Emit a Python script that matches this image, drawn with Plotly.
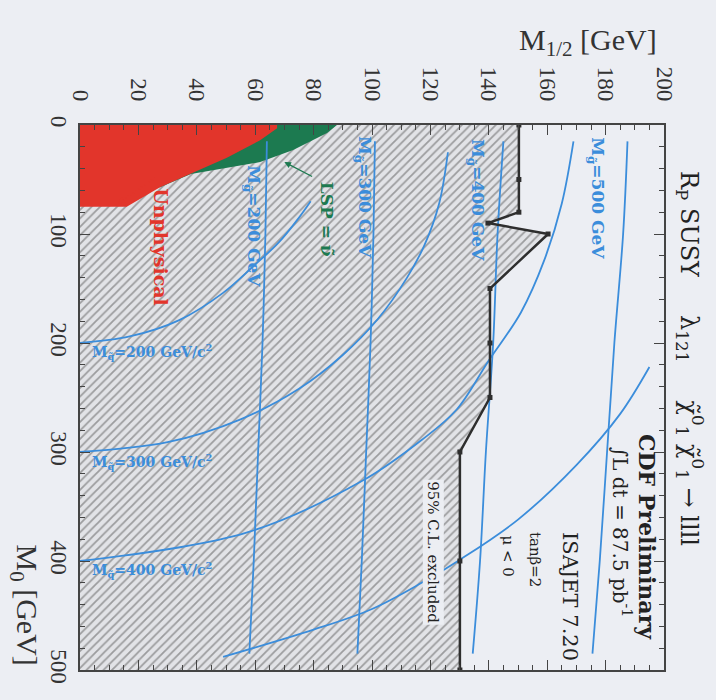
import plotly.graph_objects as go

# ---------------- data (M1/2 [GeV], M0 [GeV]) ----------------
m12_ticks = [0, 20, 40, 60, 80, 100, 120, 140, 160, 180, 200]
m0_ticks = [0, 100, 200, 300, 400, 500]

# CDF 95% C.L. exclusion contour
limit_m12 = [150.3, 150.3, 150.3, 139.7, 160.3, 140.4, 140.4, 140.4, 130.1, 130.1, 130.1]
limit_m0 = [0, 50, 80, 90, 100, 150, 200, 250, 300, 400, 500]

# unphysical region
unphys_m12 = [0, 67.5, 67.5, 61.7, 50.3, 38.7, 27.4, 16, 0]
unphys_m0 = [0, 0, 3, 14, 30, 44, 57, 75, 75]

# LSP = sneutrino region
lsp_m12 = [0, 88, 84.6, 73, 61.7, 50.3, 38, 27.4, 0]
lsp_m0 = [0, 0, 7.3, 23, 34, 39.4, 45, 57, 57]

# gluino mass contours (nearly constant M1/2)
gluino_m0 = [15, 100, 200, 300, 400, 485]
gluino200_m12 = [64, 63.5, 62.5, 61, 59.5, 58]
gluino300_m12 = [101, 100.5, 99.5, 98, 96.5, 95]
gluino400_m12 = [145, 143, 141.5, 139, 137, 134.5]
gluino500_m12 = [187.5, 186, 183, 180.5, 178, 175.5]
gluino_labels = ["200", "300", "400", "500"]
gluino_label_m12 = [59.2, 96.9, 135.6, 177]
gluino_label_m0 = [92.7, 66, 68.8, 67]

# squark mass contours
squark200_m12 = [0, 17, 34, 49, 60, 68, 75, 79]
squark200_m0 = [200, 194, 179, 154, 128, 108, 85, 70]
squark300_m12 = [0, 30, 55, 75, 90, 102, 112, 118, 123, 126]
squark300_m0 = [300, 291, 270, 242, 211, 178, 140, 110, 72, 25]
squark400_m12 = [0, 57, 97, 117, 129, 140, 151, 159, 165, 169]
squark400_m0 = [400, 374, 326, 289, 261, 216, 172, 124, 72, 15]
squark500_m12 = [49, 80, 100, 117, 130, 150, 170, 185, 195]
squark500_m0 = [488, 463, 444, 420, 399, 362, 312, 265, 222]
squark_labels = ["200", "300", "400"]
squark_label_m12 = [24.7, 24.7, 24.7]
squark_label_m0 = [208, 309, 408]

BLUE = "#3b8ddb"
RED = "#e2352b"
GREEN = "#1c7a50"
BG = "#eceef3"
SERIF = "Liberation Serif"
WIDE = "DejaVu Serif"

fig = go.Figure()

# hatched excluded region
fig.add_trace(go.Scatter(
    x=[0] + limit_m12 + [0], y=[0] + limit_m0 + [500],
    mode="lines", line=dict(width=0), fill="toself",
    fillcolor="rgba(0,0,0,0)",
    fillpattern=dict(shape="/", fgcolor="#555555", bgcolor="#e2e3e7",
                     size=6, solidity=0.3),
    hoverinfo="skip", showlegend=False))

# LSP region and unphysical region
fig.add_trace(go.Scatter(x=lsp_m12, y=lsp_m0, mode="lines", line=dict(width=0),
                         fill="toself", fillcolor=GREEN, showlegend=False))
fig.add_trace(go.Scatter(x=unphys_m12, y=unphys_m0, mode="lines", line=dict(width=0),
                         fill="toself", fillcolor=RED, showlegend=False))

# blue mass contours
for xs in [gluino200_m12, gluino300_m12, gluino400_m12, gluino500_m12]:
    fig.add_trace(go.Scatter(x=xs, y=gluino_m0, mode="lines",
                             line=dict(color=BLUE, width=1.8, shape="spline"),
                             showlegend=False))
for xs, ys in [(squark200_m12, squark200_m0), (squark300_m12, squark300_m0),
               (squark400_m12, squark400_m0), (squark500_m12, squark500_m0)]:
    fig.add_trace(go.Scatter(x=xs, y=ys, mode="lines",
                             line=dict(color=BLUE, width=1.8, shape="spline"),
                             showlegend=False))

# exclusion contour
fig.add_trace(go.Scatter(x=limit_m12, y=limit_m0, mode="lines+markers",
                         line=dict(color="#2e2e2e", width=2.5),
                         marker=dict(symbol="square", size=5, color="#2e2e2e"),
                         showlegend=False))

ann = []
for lab, x, y in zip(gluino_labels, gluino_label_m12, gluino_label_m0):
    ann.append(dict(x=x, y=y, text="<b>M<sub>g̃</sub>=" + lab + " GeV</b>", textangle=90,
                    xanchor="center", yanchor="middle", showarrow=False,
                    font=dict(family=WIDE, size=17, color=BLUE)))
for lab, x, y in zip(squark_labels, squark_label_m12, squark_label_m0):
    ann.append(dict(x=x, y=y, text="<b>M<sub>q̃</sub>=" + lab + " GeV/c<sup>2</sup></b>",
                    xanchor="center", yanchor="middle", showarrow=False,
                    font=dict(family=WIDE, size=14, color=BLUE)))

ann += [
    dict(x=27.7, y=112, text="<b>Unphysical</b>", textangle=90, showarrow=False,
         font=dict(family=WIDE, size=19, color=RED)),
    dict(x=13, y=72, ax=26, ay=48, axref="x", ayref="y", text="", showarrow=True,
         arrowhead=2, arrowsize=1, arrowwidth=1.3, arrowcolor=RED),
    dict(x=84.6, y=86, text="<b>LSP = ν̃</b>", textangle=90, showarrow=False,
         font=dict(family=WIDE, size=17, color=GREEN)),
    dict(x=70, y=34, ax=80, ay=48, axref="x", ayref="y", text="", showarrow=True,
         arrowhead=2, arrowsize=1, arrowwidth=1.3, arrowcolor=GREEN),
    dict(x=120.9, y=392, text="95% C.L. excluded", textangle=90, showarrow=False,
         bgcolor=BG, font=dict(family=WIDE, size=15, color="#222")),
    dict(x=194.2, y=378, text="<b>CDF Preliminary</b>", textangle=90, showarrow=False,
         font=dict(family=WIDE, size=22, color="#222")),
    dict(x=185.6, y=374, text="∫L dt = 87.5 pb<sup>-1</sup>", textangle=90, showarrow=False,
         font=dict(family=WIDE, size=20, color="#222")),
    dict(x=167.8, y=433, text="ISAJET 7.20", textangle=90, showarrow=False,
         font=dict(family=WIDE, size=21, color="#222")),
    dict(x=155.8, y=399, text="tanβ=2", textangle=90, showarrow=False,
         font=dict(family=WIDE, size=15, color="#222")),
    dict(x=146.6, y=395, text="μ < 0", textangle=90, showarrow=False,
         font=dict(family=WIDE, size=15, color="#222")),
    dict(xref="paper", yref="paper", x=1.045, y=0.572, xanchor="center", yanchor="middle",
         text="R<sub>P</sub> SUSY     λ<sub>121</sub>     χ̃<sup>0</sup><sub>1</sub> χ̃<sup>0</sup><sub>1</sub> → llll",
         textangle=90, showarrow=False, font=dict(family=WIDE, size=24, color="#222")),
    dict(xref="paper", yref="paper", x=0.87, y=1.152, xanchor="center", yanchor="middle",
         text="M<sub>1/2</sub> [GeV]",
         showarrow=False, font=dict(family=SERIF, size=30, color="#333")),
    dict(xref="paper", yref="paper", x=-0.094, y=0.12, xanchor="center", yanchor="middle",
         text="M<sub>0</sub> [GeV]",
         textangle=90, showarrow=False, font=dict(family=SERIF, size=30, color="#333")),
]

fig.update_layout(
    width=716, height=700,
    margin=dict(l=80, r=52, t=125, b=30),
    paper_bgcolor=BG, plot_bgcolor=BG,
    annotations=ann,
    xaxis=dict(range=[0, 200], side="top", tickvals=m12_ticks, tickangle=90,
               ticks="inside", ticklen=10, tickcolor="#444", ticklabelstandoff=14,
               minor=dict(ticks="inside", ticklen=5, dtick=5, tickcolor="#444"),
               showline=True, linecolor="#444", linewidth=1.5, mirror="allticks",
               showgrid=False, zeroline=False,
               tickfont=dict(family=SERIF, size=23, color="#333")),
    yaxis=dict(range=[500, 0], tickvals=m0_ticks, tickangle=90,
               ticks="inside", ticklen=10, tickcolor="#444",
               minor=dict(ticks="inside", ticklen=5, dtick=20, tickcolor="#444"),
               showline=True, linecolor="#444", linewidth=1.5, mirror="allticks",
               showgrid=False, zeroline=False,
               tickfont=dict(family=SERIF, size=23, color="#333")),
)

fig.write_html("out.html")
